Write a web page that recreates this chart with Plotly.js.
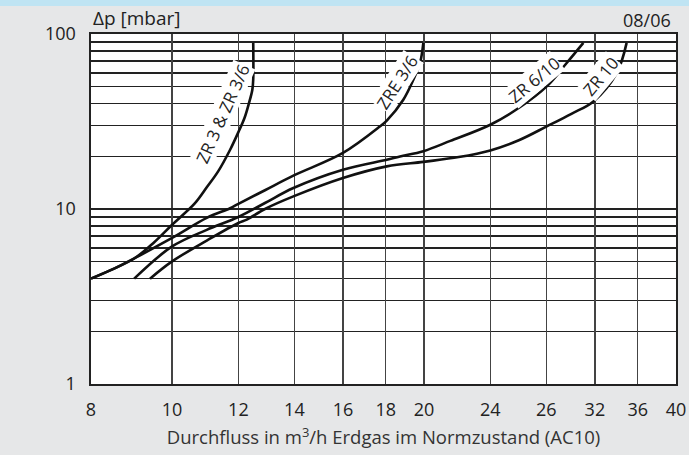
<!DOCTYPE html>
<html><head><meta charset="utf-8">
<script src="https://cdn.plot.ly/plotly-3.0.1.min.js"></script>
<style>html,body{margin:0;padding:0;background:#e6e7e8;}#wrap{position:relative;width:689px;height:455px;}#chart{width:689px;height:455px;}#band{position:absolute;left:0;top:0;width:689px;height:6px;background:#bfe4f3;z-index:5;}</style>
</head><body><div id="wrap"><div id="band"></div><div id="chart"></div></div>
<script>
// Flow (m3/h) and pressure drop (mbar) per regulator curve
const zr3X   = [8.0, 8.47, 9.03, 9.5, 10.0, 10.65, 11.0, 11.35, 11.73, 12.0, 12.2, 12.35, 12.47, 12.5, 12.5];
const zr3Y   = [4.0, 4.5, 5.25, 6.4, 8.13, 10.8, 13.3, 16.4, 21.8, 27.5, 33.0, 40.0, 48.0, 55.0, 89.0];
const zre36X = [8.0, 8.47, 9.03, 10.0, 11.0, 11.73, 12.0, 12.91, 13.96, 16.0, 17.71, 18.05, 18.89, 19.42, 19.78, 19.96];
const zre36Y = [4.0, 4.5, 5.25, 6.83, 8.9, 10.1, 10.7, 12.8, 15.5, 20.9, 29.6, 32.0, 42.1, 54.8, 68.3, 89.0];
const zr610X = [9.01, 10.0, 11.0, 12.0, 12.91, 13.96, 16.0, 18.05, 18.72, 19.96, 21.5, 24.0, 26.0, 28.03, 29.61, 31.0];
const zr610Y = [4.0, 6.11, 7.6, 9.0, 10.82, 13.18, 16.77, 19.13, 19.98, 21.4, 24.5, 30.3, 38.0, 50.2, 68.3, 89.0];
const zr10X  = [9.41, 10.0, 11.0, 12.0, 12.28, 12.91, 13.96, 16.0, 18.05, 19.96, 22.0, 24.0, 26.0, 28.03, 30.0, 31.87, 33.98, 34.92];
const zr10Y  = [4.0, 5.02, 6.6, 8.32, 8.69, 10.0, 11.8, 15.03, 17.52, 18.6, 19.8, 21.62, 24.8, 29.65, 35.0, 41.2, 59.8, 89.0];

const xTickVals = [8, 10, 12, 14, 16, 18, 20, 24, 28, 32, 36, 40];
const xTickText = ['8', '10', '12', '14', '16', '18', '20', '24', '26', '32', '36', '40'];
const yTickVals = [1, 10, 100];
const yTickText = ['1', '10', '100'];
const yMinorVals = [2, 3, 4, 5, 6, 7, 8, 9, 20, 30, 40, 50, 60, 70, 80, 90];

const curveLabels = ['ZR 3 & ZR 3/6', 'ZRE 3/6', 'ZR 6/10', 'ZR 10'];
const labelX = [11.5, 18.55, 27.1, 32.5];
const labelY = [35, 53, 55, 57];
const labelAngle = [-66, -57, -40, -50];

const FONT = 'Open Sans, Noto Sans, sans-serif';
const lineStyle = {color: '#111', width: 2.6, shape: 'spline', smoothing: 1.0};
const traces = [
  {x: zr3X, y: zr3Y}, {x: zre36X, y: zre36Y}, {x: zr610X, y: zr610Y}, {x: zr10X, y: zr10Y}
].map((d, i) => ({x: d.x, y: d.y, type: 'scatter', mode: 'lines', name: curveLabels[i], line: lineStyle, hoverinfo: 'x+y+name'}));

const annotations = curveLabels.map((t, i) => ({
  text: t, x: Math.log10(labelX[i]), y: Math.log10(labelY[i]), xref: 'x', yref: 'y',
  showarrow: false, textangle: labelAngle[i], font: {family: FONT, size: 17, color: '#222'},
  bgcolor: 'rgba(255,255,255,1)', borderpad: 0
}));
annotations.push({text: 'Δp [mbar]', xref: 'paper', yref: 'paper', x: 0, y: 1, yshift: 1,
  xanchor: 'left', yanchor: 'bottom', showarrow: false, font: {family: FONT, size: 19, color: '#222'}});
annotations.push({text: '08/06', xref: 'paper', yref: 'paper', x: 1, xshift: -3, y: 1, yshift: 0,
  xanchor: 'right', yanchor: 'bottom', showarrow: false, font: {family: FONT, size: 18, color: '#222'}});

const layout = {
  width: 689, height: 455,
  margin: {l: 91, r: 13, t: 34, b: 71, pad: 0},
  paper_bgcolor: '#e6e7e8', plot_bgcolor: '#ffffff',
  showlegend: false,
  font: {family: FONT, size: 17, color: '#222'},
  xaxis: {
    type: 'log', range: [Math.log10(8), Math.log10(40)],
    tickvals: xTickVals, ticktext: xTickText, ticks: '', ticklabelstandoff: 9,
    showgrid: true, gridcolor: '#444', gridwidth: 1.4,
    showline: true, linecolor: '#222', linewidth: 1.6, mirror: true, zeroline: false,
    tickfont: {family: FONT, size: 18, color: '#222'},
    title: {text: 'Durchfluss in m<sup>3</sup>/h Erdgas im Normzustand (AC10)', font: {family: FONT, size: 18.5, color: '#333'}, standoff: 11}
  },
  yaxis: {
    type: 'log', range: [0, 2],
    tickvals: yTickVals, ticktext: yTickText, ticks: '', ticklabelstandoff: 10,
    showgrid: true, gridcolor: '#222', gridwidth: 1.4,
    minor: {tickvals: yMinorVals, showgrid: true, gridcolor: '#222', gridwidth: 1.4, ticks: ''},
    showline: true, linecolor: '#222', linewidth: 1.6, mirror: true, zeroline: false,
    tickfont: {family: FONT, size: 18, color: '#222'}
  },
  annotations: annotations
};
Plotly.newPlot('chart', traces, layout, {displayModeBar: false, staticPlot: true});
</script></body></html>
